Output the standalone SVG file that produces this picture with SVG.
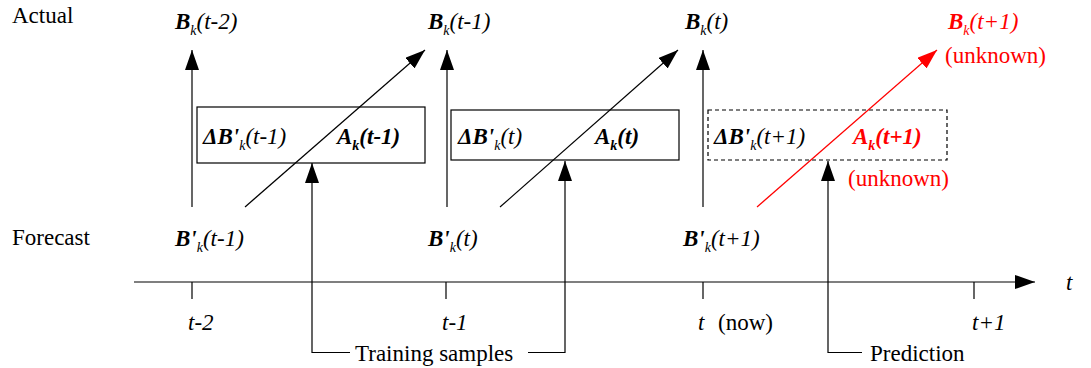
<svg xmlns="http://www.w3.org/2000/svg" width="1091" height="368" viewBox="0 0 1091 368">
<style>
.t{font-size:23px;fill:#000}
.it{font-style:italic}
.b{font-weight:bold}
.sub{font-size:14px}
.red{fill:#f00}
.ln{stroke:#000;stroke-width:1.2;fill:none}
.rln{stroke:#f00;stroke-width:1.2;fill:none}
.box{stroke:#000;stroke-width:1.2;fill:none}
.dbox{stroke:#000;stroke-width:1.2;fill:none;stroke-dasharray:4 3}
</style>
<defs>
<marker id="ah" markerUnits="userSpaceOnUse" markerWidth="20" markerHeight="14" refX="20" refY="7" orient="auto"><path d="M0,0 L20,7 L0,14 z" fill="#000"/></marker>
<marker id="rah" markerUnits="userSpaceOnUse" markerWidth="20" markerHeight="14" refX="20" refY="7" orient="auto"><path d="M0,0 L20,7 L0,14 z" fill="#f00"/></marker>
</defs>
<g font-family="Liberation Serif, DejaVu Serif, serif">
<g id="row-labels">
<text class="t" x="12" y="23">Actual</text>
<text class="t" x="12" y="245">Forecast</text>
</g>
<g id="actual-t-2"><text class="t it" x="175" y="29"><tspan class="b">B</tspan><tspan class="sub" dy="6">k</tspan><tspan dy="-6">(t-2)</tspan></text></g>
<g id="actual-t-1"><text class="t it" x="428" y="29"><tspan class="b">B</tspan><tspan class="sub" dy="6">k</tspan><tspan dy="-6">(t-1)</tspan></text></g>
<g id="actual-t"><text class="t it" x="685" y="29"><tspan class="b">B</tspan><tspan class="sub" dy="6">k</tspan><tspan dy="-6">(t)</tspan></text></g>
<g id="actual-t+1"><text class="t it red" x="948" y="29"><tspan class="b">B</tspan><tspan class="sub" dy="6">k</tspan><tspan dy="-6">(t+1)</tspan></text>
<text class="t red" x="945" y="63">(unknown)</text></g>
<g id="forecast-t-1"><text class="t it" x="175" y="246"><tspan class="b">B'</tspan><tspan class="sub" dy="6">k</tspan><tspan dy="-6">(t-1)</tspan></text></g>
<g id="forecast-t"><text class="t it" x="428" y="246"><tspan class="b">B'</tspan><tspan class="sub" dy="6">k</tspan><tspan dy="-6">(t)</tspan></text></g>
<g id="forecast-t+1"><text class="t it" x="683" y="246"><tspan class="b">B'</tspan><tspan class="sub" dy="6">k</tspan><tspan dy="-6">(t+1)</tspan></text></g>
<g id="box-t-1">
<rect class="box" x="197" y="107" width="228" height="56"/>
<text class="t it" x="203" y="144"><tspan class="b">ΔB'</tspan><tspan class="sub" dy="6">k</tspan><tspan dy="-6">(t-1)</tspan></text>
<text class="t it b" x="337" y="144">A<tspan class="sub" dy="6">k</tspan><tspan dy="-6">(t-1)</tspan></text>
</g>
<g id="box-t">
<rect class="box" x="451" y="110" width="228" height="50"/>
<text class="t it" x="458" y="144"><tspan class="b">ΔB'</tspan><tspan class="sub" dy="6">k</tspan><tspan dy="-6">(t)</tspan></text>
<text class="t it b" x="595" y="144">A<tspan class="sub" dy="6">k</tspan><tspan dy="-6">(t)</tspan></text>
</g>
<g id="box-t+1">
<rect class="dbox" x="708" y="110" width="239" height="50"/>
<text class="t it" x="714" y="144"><tspan class="b">ΔB'</tspan><tspan class="sub" dy="6">k</tspan><tspan dy="-6">(t+1)</tspan></text>
<text class="t it b red" x="853" y="144">A<tspan class="sub" dy="6">k</tspan><tspan dy="-6">(t+1)</tspan></text>
<text class="t red" x="848" y="186">(unknown)</text>
</g>
<g id="axis-labels">
<text class="t it" x="188" y="330">t-2</text>
<text class="t it" x="442" y="330">t-1</text>
<text class="t it" x="698" y="330">t</text>
<text class="t" x="718" y="330">(now)</text>
<text class="t it" x="972" y="330">t+1</text>
<text class="t it" x="1066" y="290">t</text>
</g>
<g id="training-samples"><text class="t" x="355" y="361">Training samples</text></g>
<g id="prediction"><text class="t" x="870" y="361">Prediction</text></g>
</g>
<g id="connectors">
<line class="ln" x1="134" y1="282" x2="1035" y2="282" marker-end="url(#ah)"/>
<line class="ln" x1="192" y1="282" x2="192" y2="299"/>
<line class="ln" x1="446" y1="282" x2="446" y2="299"/>
<line class="ln" x1="703" y1="282" x2="703" y2="299"/>
<line class="ln" x1="974" y1="282" x2="974" y2="299"/>
<line class="ln" x1="192" y1="207" x2="192" y2="50" marker-end="url(#ah)"/>
<line class="ln" x1="447" y1="207" x2="447" y2="50" marker-end="url(#ah)"/>
<line class="ln" x1="703" y1="207" x2="703" y2="50" marker-end="url(#ah)"/>
<line class="ln" x1="245" y1="207" x2="425" y2="50" marker-end="url(#ah)"/>
<line class="ln" x1="500" y1="207" x2="678" y2="50" marker-end="url(#ah)"/>
<line class="rln" x1="757" y1="207" x2="937" y2="50" marker-end="url(#rah)"/>
<polyline class="ln" points="350,352.5 312,352.5 312,163" marker-end="url(#ah)"/>
<polyline class="ln" points="528,352.5 565,352.5 565,161" marker-end="url(#ah)"/>
<polyline class="ln" points="862,352.5 828,352.5 828,161" marker-end="url(#ah)"/>
</g>
</svg>
